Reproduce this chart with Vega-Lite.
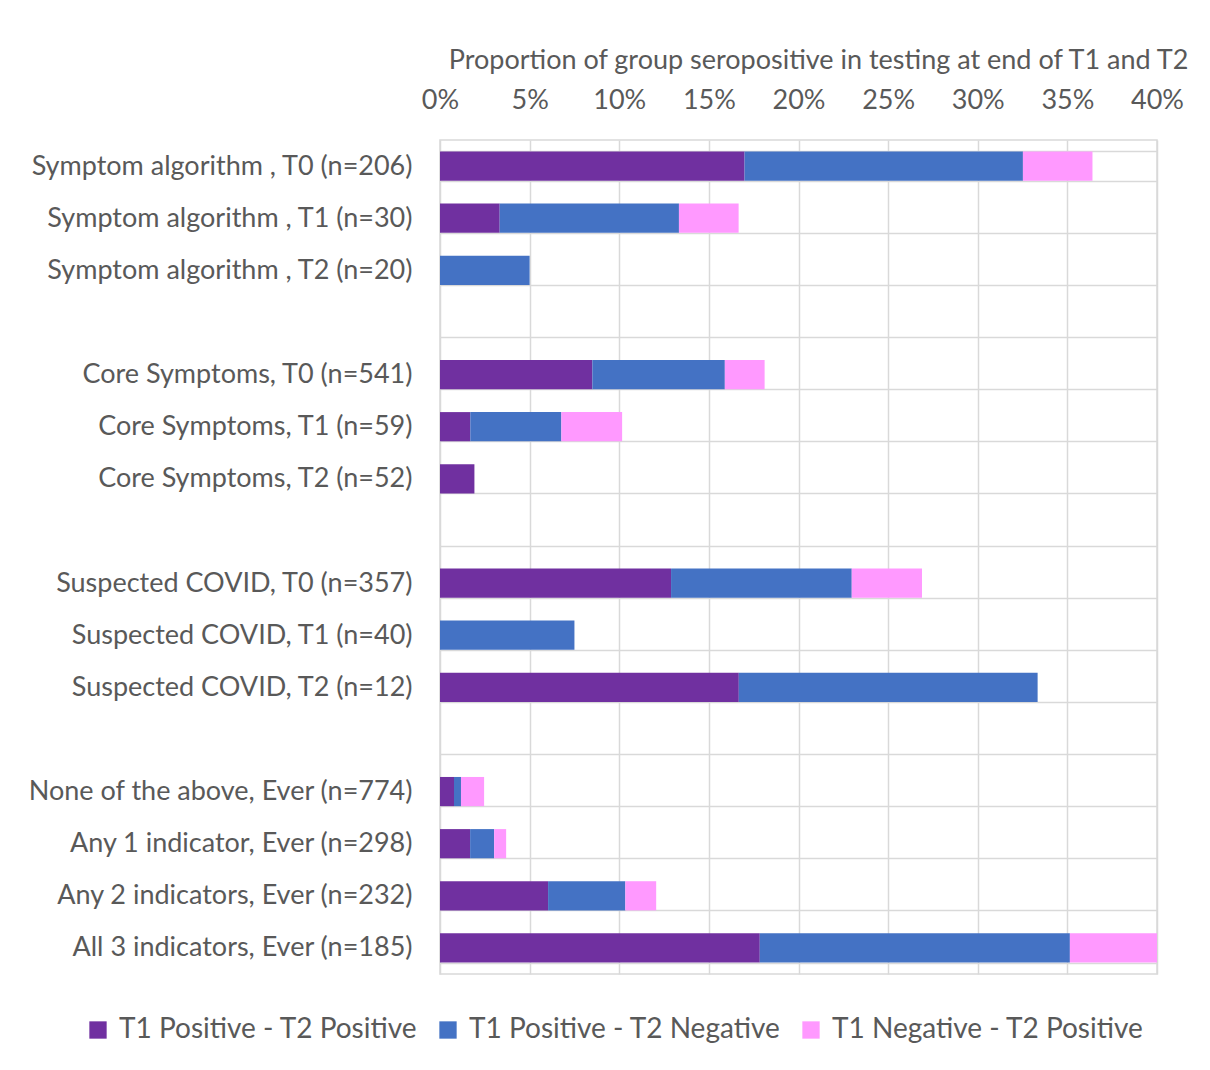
{
  "$schema": "https://vega.github.io/schema/vega-lite/v6.json",
  "autosize": {"type": "none"},
  "width": 717,
  "height": 834,
  "padding": {"left": 440, "top": 140, "right": 53, "bottom": 96},
  "background": "white",
  "config": {
    "font": "Lato",
    "view": {"stroke": "#D9D9D9", "strokeWidth": 1.5},
    "axis": {"labelColor": "#595959", "titleColor": "#595959", "labelFont": "Lato", "titleFont": "Lato"}
  },
  "data": {
    "values": [
      {"cat": "Symptom algorithm , T0 (n=206)", "status": "T1 Positive - T2 Positive", "ord": 1, "value": 0.1699},
      {"cat": "Symptom algorithm , T0 (n=206)", "status": "T1 Positive - T2 Negative", "ord": 2, "value": 0.1553},
      {"cat": "Symptom algorithm , T0 (n=206)", "status": "T1 Negative - T2 Positive", "ord": 3, "value": 0.0388},
      {"cat": "Symptom algorithm , T1 (n=30)", "status": "T1 Positive - T2 Positive", "ord": 1, "value": 0.0333},
      {"cat": "Symptom algorithm , T1 (n=30)", "status": "T1 Positive - T2 Negative", "ord": 2, "value": 0.1},
      {"cat": "Symptom algorithm , T1 (n=30)", "status": "T1 Negative - T2 Positive", "ord": 3, "value": 0.0333},
      {"cat": "Symptom algorithm , T2 (n=20)", "status": "T1 Positive - T2 Negative", "ord": 2, "value": 0.05},
      {"cat": "Core Symptoms, T0 (n=541)", "status": "T1 Positive - T2 Positive", "ord": 1, "value": 0.085},
      {"cat": "Core Symptoms, T0 (n=541)", "status": "T1 Positive - T2 Negative", "ord": 2, "value": 0.0739},
      {"cat": "Core Symptoms, T0 (n=541)", "status": "T1 Negative - T2 Positive", "ord": 3, "value": 0.0222},
      {"cat": "Core Symptoms, T1 (n=59)", "status": "T1 Positive - T2 Positive", "ord": 1, "value": 0.0169},
      {"cat": "Core Symptoms, T1 (n=59)", "status": "T1 Positive - T2 Negative", "ord": 2, "value": 0.0508},
      {"cat": "Core Symptoms, T1 (n=59)", "status": "T1 Negative - T2 Positive", "ord": 3, "value": 0.0339},
      {"cat": "Core Symptoms, T2 (n=52)", "status": "T1 Positive - T2 Positive", "ord": 1, "value": 0.0192},
      {"cat": "Suspected COVID, T0 (n=357)", "status": "T1 Positive - T2 Positive", "ord": 1, "value": 0.1289},
      {"cat": "Suspected COVID, T0 (n=357)", "status": "T1 Positive - T2 Negative", "ord": 2, "value": 0.1008},
      {"cat": "Suspected COVID, T0 (n=357)", "status": "T1 Negative - T2 Positive", "ord": 3, "value": 0.0392},
      {"cat": "Suspected COVID, T1 (n=40)", "status": "T1 Positive - T2 Negative", "ord": 2, "value": 0.075},
      {"cat": "Suspected COVID, T2 (n=12)", "status": "T1 Positive - T2 Positive", "ord": 1, "value": 0.1667},
      {"cat": "Suspected COVID, T2 (n=12)", "status": "T1 Positive - T2 Negative", "ord": 2, "value": 0.1667},
      {"cat": "None of the above, Ever (n=774)", "status": "T1 Positive - T2 Positive", "ord": 1, "value": 0.0078},
      {"cat": "None of the above, Ever (n=774)", "status": "T1 Positive - T2 Negative", "ord": 2, "value": 0.0039},
      {"cat": "None of the above, Ever (n=774)", "status": "T1 Negative - T2 Positive", "ord": 3, "value": 0.0129},
      {"cat": "Any 1 indicator, Ever (n=298)", "status": "T1 Positive - T2 Positive", "ord": 1, "value": 0.0168},
      {"cat": "Any 1 indicator, Ever (n=298)", "status": "T1 Positive - T2 Negative", "ord": 2, "value": 0.0134},
      {"cat": "Any 1 indicator, Ever (n=298)", "status": "T1 Negative - T2 Positive", "ord": 3, "value": 0.0067},
      {"cat": "Any 2 indicators, Ever (n=232)", "status": "T1 Positive - T2 Positive", "ord": 1, "value": 0.0603},
      {"cat": "Any 2 indicators, Ever (n=232)", "status": "T1 Positive - T2 Negative", "ord": 2, "value": 0.0431},
      {"cat": "Any 2 indicators, Ever (n=232)", "status": "T1 Negative - T2 Positive", "ord": 3, "value": 0.0172},
      {"cat": "All 3 indicators, Ever (n=185)", "status": "T1 Positive - T2 Positive", "ord": 1, "value": 0.1784},
      {"cat": "All 3 indicators, Ever (n=185)", "status": "T1 Positive - T2 Negative", "ord": 2, "value": 0.1730},
      {"cat": "All 3 indicators, Ever (n=185)", "status": "T1 Negative - T2 Positive", "ord": 3, "value": 0.0486}
    ]
  },
  "mark": {"type": "bar"},
  "encoding": {
    "y": {
      "field": "cat",
      "type": "nominal",
      "scale": {
        "domain": ["Symptom algorithm , T0 (n=206)", "Symptom algorithm , T1 (n=30)", "Symptom algorithm , T2 (n=20)", " ", "Core Symptoms, T0 (n=541)", "Core Symptoms, T1 (n=59)", "Core Symptoms, T2 (n=52)", "  ", "Suspected COVID, T0 (n=357)", "Suspected COVID, T1 (n=40)", "Suspected COVID, T2 (n=12)", "   ", "None of the above, Ever (n=774)", "Any 1 indicator, Ever (n=298)", "Any 2 indicators, Ever (n=232)", "All 3 indicators, Ever (n=185)"],
        "paddingInner": 0.44,
        "paddingOuter": 0.22
      },
      "axis": {
        "title": null,
        "labelFontSize": 27,
        "labelPadding": 28,
        "ticks": false,
        "domain": false,
        "grid": true,
        "tickBand": "extent",
        "gridColor": "#D9D9D9",
        "gridWidth": 1.5,
        "labelLimit": 500
      }
    },
    "x": {
      "field": "value",
      "type": "quantitative",
      "stack": "zero",
      "scale": {"domain": [0, 0.4], "nice": false},
      "axis": {
        "orient": "top",
        "format": ".0%",
        "values": [0, 0.05, 0.1, 0.15, 0.2, 0.25, 0.3, 0.35, 0.4],
        "title": "Proportion of group seropositive in testing at end of T1 and T2",
        "titleFontSize": 27,
        "titleFontWeight": "normal",
        "titlePadding": 12,
        "titleX": 378,
        "labelFontSize": 27,
        "labelPadding": 26,
        "labelFlush": false,
        "labelBound": false,
        "labelOverlap": false,
        "ticks": false,
        "domain": false,
        "grid": true,
        "gridColor": "#D9D9D9",
        "gridWidth": 1.5
      }
    },
    "color": {
      "field": "status",
      "type": "nominal",
      "scale": {
        "domain": ["T1 Positive - T2 Positive", "T1 Positive - T2 Negative", "T1 Negative - T2 Positive"],
        "range": ["#7030A0", "#4472C4", "#FF99FF"]
      },
      "legend": {
        "title": null,
        "orient": "none",
        "direction": "horizontal",
        "legendX": -356,
        "legendY": 876,
        "symbolType": "square",
        "symbolSize": 300,
        "symbolStrokeWidth": 0,
        "labelFontSize": 28,
        "labelColor": "#595959",
        "labelOffset": 7,
        "columnPadding": 16,
        "labelLimit": 500
      }
    },
    "order": {"field": "ord", "type": "quantitative"}
  }
}
